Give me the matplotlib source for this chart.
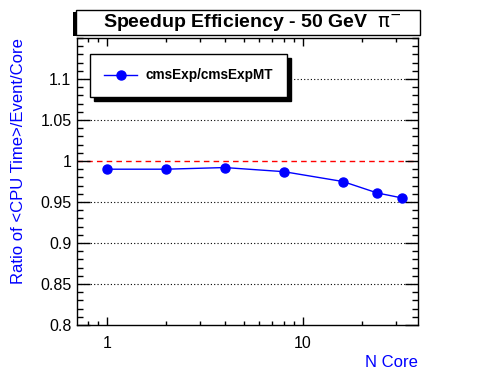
import matplotlib
matplotlib.use('Agg')
import matplotlib.pyplot as plt
from matplotlib.patches import Rectangle
from matplotlib.ticker import FixedLocator, NullFormatter, FixedFormatter, MultipleLocator

plt.rcParams['font.family'] = ['Liberation Sans', 'DejaVu Sans']

n_core = [1, 2, 4, 8, 16, 24, 32]
ratio = [0.990, 0.990, 0.992, 0.987, 0.975, 0.961, 0.955]
y_ticks = [0.8, 0.85, 0.9, 0.95, 1.0, 1.05, 1.1]
y_labels = ['0.8', '0.85', '0.9', '0.95', '1', '1.05', '1.1']

fig = plt.figure(figsize=(4.96, 3.72), dpi=100)
W, H = 496, 372
ax = fig.add_axes([77 / W, 1 - 325 / H, 341 / W, 287 / H])

ax.plot(n_core, ratio, color='blue', lw=1, marker='o', ms=6.5,
        mec='blue', mfc='blue', label='cmsExp/cmsExpMT', zorder=3)
ax.axhline(1.0, color='red', ls=(0, (4, 3)), lw=1, zorder=1)

ax.set_xscale('log')
ax.set_xlim(0.705, 38.7)
ax.set_ylim(0.8, 1.15)

# dotted y grid at the majors (1.0 is the red dashed line)
for yv in y_ticks[1:]:
    if yv != 1.0:
        ax.axhline(yv, color='black', ls=(0, (1, 2)), lw=0.8, zorder=0)

ax.yaxis.set_major_locator(FixedLocator(y_ticks))
ax.yaxis.set_major_formatter(FixedFormatter(y_labels))
ax.yaxis.set_minor_locator(MultipleLocator(0.01))
ax.xaxis.set_major_locator(FixedLocator([1, 10]))
ax.xaxis.set_major_formatter(FixedFormatter(['1', '10']))
ax.xaxis.set_minor_locator(FixedLocator([0.8, 0.9, 2, 3, 4, 5, 6, 7, 8, 9, 20, 30]))
ax.xaxis.set_minor_formatter(NullFormatter())

ax.tick_params(axis='both', which='both', direction='in', top=True, right=True,
               width=1, labelsize=11.5, colors='black')
ax.tick_params(axis='y', which='major', length=9.5, pad=4)
ax.tick_params(axis='y', which='minor', length=4.5)
ax.tick_params(axis='x', which='major', length=6, pad=8)
ax.tick_params(axis='x', which='minor', length=3)
for s in ax.spines.values():
    s.set_linewidth(1)

ax.set_ylabel('Ratio of <CPU Time>/Event/Core', color='blue', fontsize=12)
ax.yaxis.set_label_coords(-0.173, 1.0)
ax.yaxis.label.set_horizontalalignment('right')
ax.yaxis.label.set_verticalalignment('center')
ax.set_xlabel('N Core', color='blue', fontsize=12)
ax.xaxis.set_label_coords(1.0, -0.105)
ax.xaxis.label.set_horizontalalignment('right')

leg = ax.legend(loc='upper left', bbox_to_anchor=(0.038, 0.944), borderaxespad=0,
                frameon=True, fancybox=False, handlelength=2.4, borderpad=1.05,
                handletextpad=0.6, prop={'weight': 'bold', 'size': 9.8},
                shadow={'color': 'black', 'alpha': 1, 'ox': 3, 'oy': -3})
leg.get_frame().set_edgecolor('black')
leg.get_frame().set_linewidth(1)
leg.get_frame().set_alpha(1)

# title box with its shadow
fig.patches.append(Rectangle((73 / W, 1 - 36 / H), 344 / W, 24 / H,
                             transform=fig.transFigure, facecolor='black',
                             edgecolor='none', zorder=2))
fig.patches.append(Rectangle((76 / W, 1 - 35 / H), 344 / W, 25 / H,
                             transform=fig.transFigure, facecolor='white',
                             edgecolor='black', lw=1, zorder=3))
fig.text(252 / W, 1 - 22.5 / H, r'Speedup Efficiency - 50 GeV  $\mathrm{\pi}^{-}$',
         ha='center', va='center', fontsize=14, fontweight='bold', zorder=4)

fig.savefig('out.png', dpi=100)
